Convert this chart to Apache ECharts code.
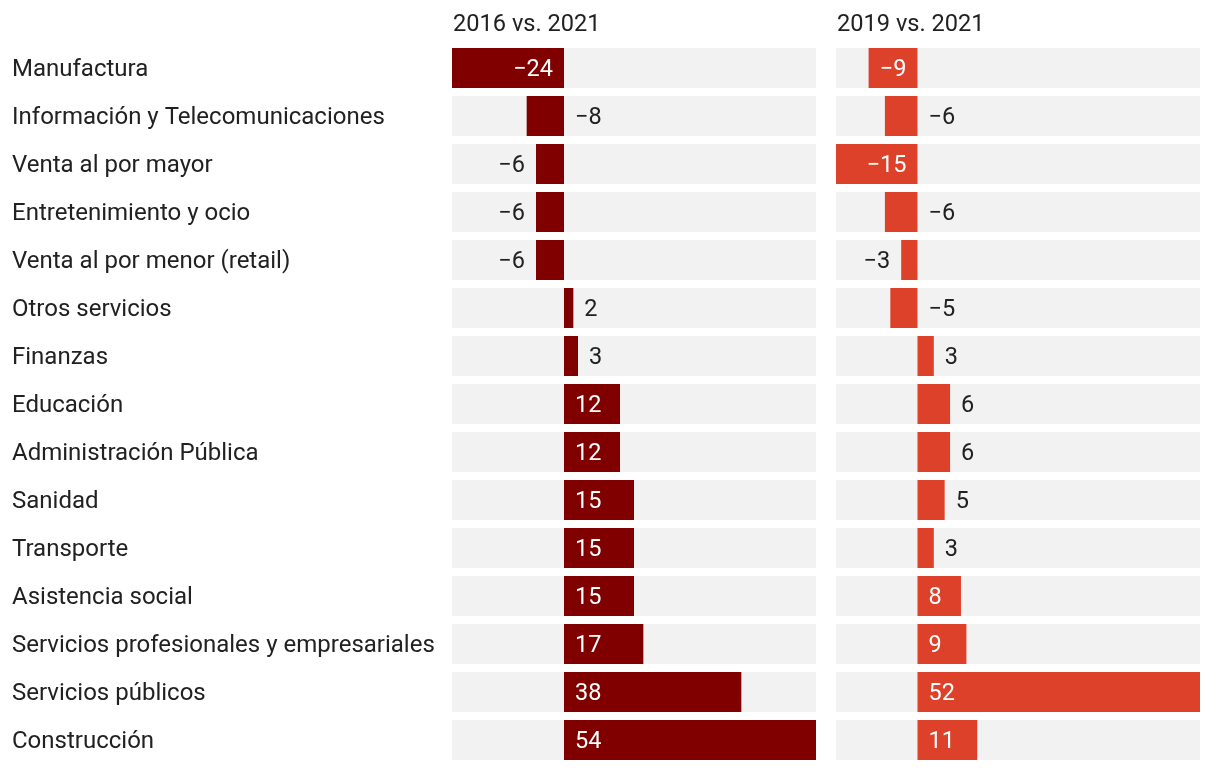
<!DOCTYPE html>
<html><head><meta charset="utf-8">
<script src="https://cdn.jsdelivr.net/npm/echarts@6/dist/echarts.min.js"></script>
<style>html,body{margin:0;padding:0;background:#fff}#c{width:1220px;height:770px}</style>
</head><body><div id="c"></div>
<script>
const categories = ['Manufactura','Información y Telecomunicaciones','Venta al por mayor','Entretenimiento y ocio','Venta al por menor (retail)','Otros servicios','Finanzas','Educación','Administración Pública','Sanidad','Transporte','Asistencia social','Servicios profesionales y empresariales','Servicios públicos','Construcción'];
const panelTitles = ['2016 vs. 2021','2019 vs. 2021'];
const values2016 = [-24,-8,-6,-6,-6,2,3,12,12,15,15,15,17,38,54];
const values2019 = [-9,-6,-15,-6,-3,-5,3,6,6,5,3,8,9,52,11];
// label placement: 'in' inside at zero end, 'end' outside at bar end, 'zero' outside on other side of zero
const labelMode2016 = ['in','zero','end','end','end','end','end','in','in','in','in','in','in','in','in'];
const labelMode2019 = ['in','zero','in','zero','end','zero','end','end','end','end','end','in','in','in','in'];

const FONT = 'Roboto';
const FS = 23.5;
const TXT = '#212121';

function fmt(v){ return v < 0 ? '\u2212' + Math.abs(v) : String(v); }

function buildData(vals, modes){
  return vals.map((v,i)=>{
    const m = modes[i];
    let pos, color;
    if (m === 'in'){ pos = v < 0 ? 'insideRight' : 'insideLeft'; color = '#fff'; }
    else if (m === 'end'){ pos = v < 0 ? 'left' : 'right'; color = TXT; }
    else { pos = v < 0 ? 'right' : 'left'; color = TXT; }
    return { value: v, label: { position: pos, color: color } };
  });
}

const chart = echarts.init(document.getElementById('c'), null, {renderer:'canvas'});
const common = {
  type:'bar', barWidth:40, showBackground:true,
  backgroundStyle:{color:'#f2f2f2'},
  label:{show:true, fontFamily:FONT, fontSize:FS, distance:11, offset:[0,2], formatter:p=>fmt(p.value)},
  animation:false
};
chart.setOption({
  animation:false,
  textStyle:{fontFamily:FONT},
  graphic:[
    {type:'text', left:453, top:13, style:{text:panelTitles[0], font:'23.6px Roboto', fill:TXT}},
    {type:'text', left:837, top:13, style:{text:panelTitles[1], font:'23.6px Roboto', fill:TXT}}
  ],
  grid:[
    {left:452, width:364, top:44, height:720},
    {left:836, width:364, top:44, height:720}
  ],
  xAxis:[
    {gridIndex:0, type:'value', min:-24, max:54, show:false},
    {gridIndex:1, type:'value', min:-15, max:52, show:false}
  ],
  yAxis:[
    {gridIndex:0, type:'category', data:categories, inverse:true,
     axisLine:{show:false}, axisTick:{show:false},
     axisLabel:{align:'left', margin:440, fontFamily:FONT, fontSize:24, color:TXT, verticalAlign:'top', lineHeight:4}},
    {gridIndex:1, type:'category', data:categories, inverse:true, show:false}
  ],
  series:[
    Object.assign({}, common, {xAxisIndex:0, yAxisIndex:0, itemStyle:{color:'#800000'}, data:buildData(values2016, labelMode2016)}),
    Object.assign({}, common, {xAxisIndex:1, yAxisIndex:1, itemStyle:{color:'#de4129'}, data:buildData(values2019, labelMode2019)})
  ]
});
</script></body></html>
